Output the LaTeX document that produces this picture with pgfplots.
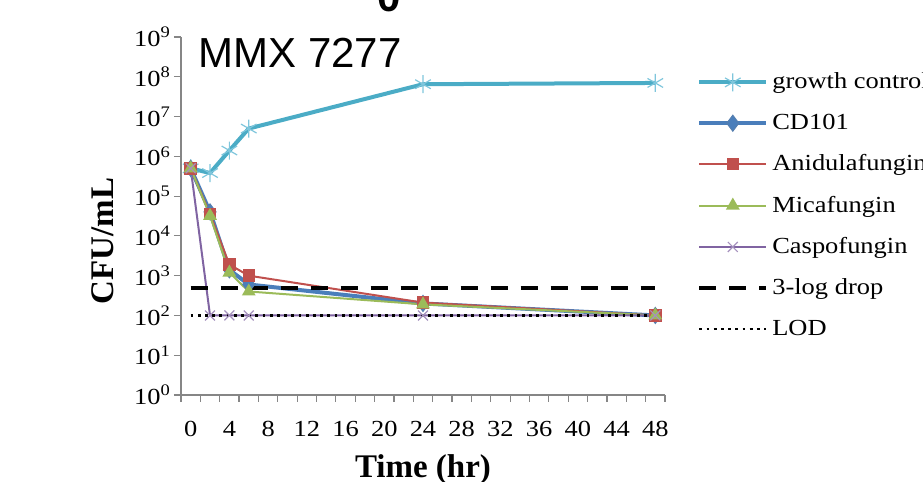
\documentclass[border=0pt]{standalone}
\usepackage{fontspec}
\setmainfont{Liberation Serif}
\newfontfamily\widefont{Liberation Serif}[FakeStretch=1.15]
\newfontfamily\arialfont{Liberation Sans}
\usepackage{pgfplots}
\pgfplotsset{compat=1.18}

\definecolor{gcline}{HTML}{4BACC6}
\definecolor{gcmark}{HTML}{7FC6DC}
\definecolor{cdline}{HTML}{4A7EBB}
\definecolor{anline}{HTML}{C0504D}
\definecolor{miline}{HTML}{9BBB59}
\definecolor{caline}{HTML}{8064A2}
\definecolor{axisgray}{HTML}{868686}

\begin{document}
\begin{tikzpicture}
\begin{axis}[
    at={(0,0)}, anchor=south west,
    scale only axis, width=242pt, height=179pt,
    ymode=log,
    xmin=-1, xmax=49, ymin=1, ymax=1e9,
    axis x line*=bottom, axis y line*=left,
    axis line style={draw=axisgray, line width=0.7pt},
    tick align=outside,
    tick style={draw=axisgray, line width=0.6pt},
    major tick length=3.5pt,
    minor tick length=0pt,
    xtick={-1,1,...,49},
    xticklabels={},
    extra x ticks={0,4,...,48},
    extra x tick style={major tick length=0pt},
    ytick={1,10,100,1000,1e4,1e5,1e6,1e7,1e8,1e9},
    yticklabels={10\textsuperscript{0},10\textsuperscript{1},10\textsuperscript{2},10\textsuperscript{3},10\textsuperscript{4},10\textsuperscript{5},10\textsuperscript{6},10\textsuperscript{7},10\textsuperscript{8},10\textsuperscript{9}},
    /pgf/number format/assume math mode=true,
    ticklabel style={font=\widefont\fontsize{11.5}{13}\selectfont, text=black},
    xticklabel style={yshift=-9.5pt},
    yticklabel style={xshift=2pt},
    xlabel={\textbf{Time (hr)}},
    ylabel={\textbf{CFU/mL}},
    label style={font=\fontsize{16.5}{19}\selectfont},
    xlabel style={at={(axis description cs:0.5,-0.207)}, anchor=center},
    ylabel style={at={(axis description cs:-0.161,0.43)}, anchor=center},
    clip=false,
    legend style={draw=none, fill=none, at={(axis description cs:1.066,0.912)}, anchor=north west,
        font=\widefont\fontsize{11.5}{13}\selectfont, row sep=7.1pt, inner sep=0pt,
        cells={anchor=west}},
    legend cell align=left,
    legend image code/.code={\draw[mark repeat=2,mark phase=2,#1] plot coordinates {(0pt,0pt) (16.75pt,0pt) (33.5pt,0pt)};},
]
\addplot[color=gcline, line width=2pt, mark=asterisk, mark size=4.5pt,
    mark options={draw=gcmark, line width=0.6pt}]
    coordinates {(0,5e5) (2,3.8e5) (4,1.4e6) (6,5e6) (24,6.5e7) (48,7e7)};
\addlegendentry{growth control}
\addplot[color=cdline, line width=2pt, mark=diamond*, mark size=4pt,
    mark options={fill=cdline, draw=cdline!80!gray, line width=0.5pt}]
    coordinates {(0,5e5) (2,4e4) (4,1.4e3) (6,6e2) (24,2e2) (48,1e2)};
\addlegendentry{CD101}
\addplot[color=anline, line width=1pt, mark=square*, mark size=2.6pt,
    mark options={fill=anline, draw=anline}]
    coordinates {(0,5e5) (2,3.5e4) (4,1.9e3) (6,1e3) (24,2.1e2) (48,1e2)};
\addlegendentry{Anidulafungin}
\addplot[color=miline, line width=1pt, mark=triangle*, mark size=3pt,
    mark options={fill=miline, draw=miline}]
    coordinates {(0,5e5) (2,3.2e4) (4,1.2e3) (6,4e2) (24,1.9e2) (48,1e2)};
\addlegendentry{Micafungin}
\addplot[color=caline, line width=1pt, mark=x, mark size=3.5pt,
    mark options={draw=caline!70!white, line width=0.6pt}]
    coordinates {(0,5e5) (2,1e2) (4,1e2) (6,1e2) (24,1e2) (48,1e2)};
\addlegendentry{Caspofungin}
\addplot[color=black, line width=2pt, dash pattern=on 8.5pt off 6.5pt]
    coordinates {(0,500) (48,500)};
\addlegendentry{3-log drop}
\addplot[color=black, line width=1.4pt, dash pattern=on 1.4pt off 2.2pt]
    coordinates {(0,100) (48,100)};
\addlegendentry{LOD}
\end{axis}
\begin{scope}[x=0.5pt, y=-0.5pt, shift={(-181,-395)}]
\node[anchor=base west, inner sep=0pt, font=\arialfont\fontsize{21}{24}\selectfont] at (198,68) {MMX 7277};
\node[anchor=base, inner sep=0pt, font=\arialfont\bfseries\fontsize{21}{24}\selectfont] at (389,12) {0};
\pgfresetboundingbox
\path[use as bounding box] (0,0) rectangle (923,482);
\end{scope}
\end{tikzpicture}
\end{document}
